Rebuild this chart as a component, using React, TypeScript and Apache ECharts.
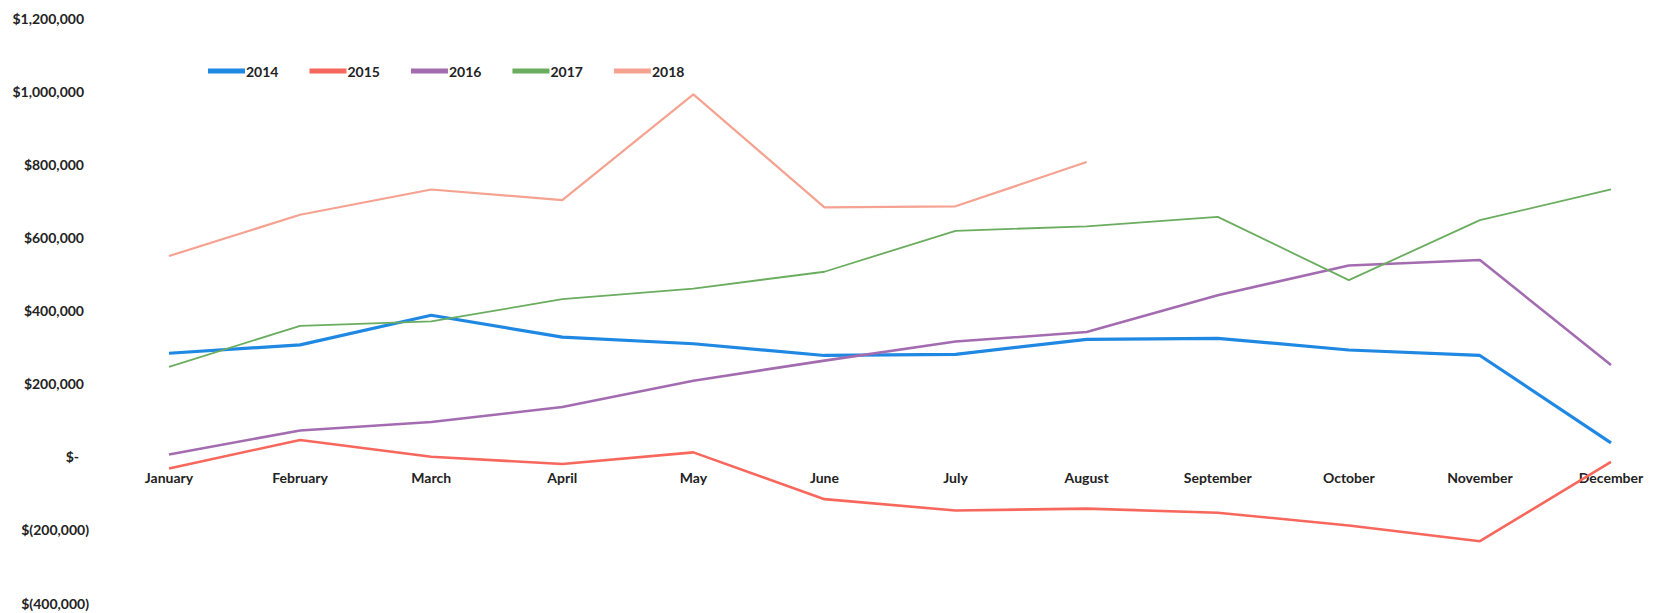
import React, { useEffect, useRef } from "react";
import * as echarts from "echarts";

const months = ["January", "February", "March", "April", "May", "June", "July", "August", "September", "October", "November", "December"];
const y2014 = [283000, 306000, 387000, 327000, 309000, 277000, 280000, 321000, 324000, 292000, 277000, 38000];
const y2015 = [-32000, 46000, 0, -20000, 12000, -116000, -147000, -142000, -153000, -188000, -231000, -14000];
const y2016 = [6000, 72000, 95000, 136000, 208000, 263000, 315000, 341000, 442000, 523000, 538000, 251000];
const y2017 = [246000, 358000, 370000, 431000, 460000, 506000, 618000, 630000, 656000, 483000, 647000, 731000];
const y2018 = [549000, 662000, 731000, 702000, 991000, 682000, 685000, 806000];

const Y_MIN = -400000;
const Y_MAX = 1200000;
const Y_STEP = 200000;

const FONT = "Lato, 'Open Sans', sans-serif";

function fmt(v: number): string {
  if (v === 0) return "{z|$-}";
  const s = Math.abs(v).toLocaleString("en-US");
  return v < 0 ? "{n|$(" + s + ")}" : "{p|$" + s + "}";
}

export default function App() {
  const ref = useRef<HTMLDivElement>(null);
  useEffect(() => {
    const chart = echarts.init(ref.current!, null, { renderer: "svg" });
    const textBase = { fontFamily: FONT, fontSize: 14, fontWeight: "bold" as const, color: "#222" };
    const mk = (name: string, data: number[], color: string, width: number) => ({
      name,
      type: "line",
      data,
      symbol: "none",
      lineStyle: { color, width },
      itemStyle: { color },
    });
    chart.setOption({
      animation: false,
      backgroundColor: "#fff",
      grid: { left: 169, right: 48, top: 18, bottom: 10, outerBoundsMode: "none", containLabel: false },
      legend: {
        left: 203,
        top: 59,
        itemWidth: 37,
        itemHeight: 5,
        itemGap: 31,
        icon: "rect",
        textStyle: { ...textBase, padding: [0, 0, 0, -4] },
        data: ["2014", "2015", "2016", "2017", "2018"],
      },
      xAxis: {
        type: "category",
        data: months,
        boundaryGap: false,
        axisLine: { show: false, onZero: false },
        axisTick: { show: false },
        axisLabel: { ...textBase, margin: 14, interval: 0 },
        splitLine: { show: false },
      },
      yAxis: {
        type: "value",
        min: Y_MIN,
        max: Y_MAX,
        interval: Y_STEP,
        axisLine: { show: false },
        axisTick: { show: false },
        splitLine: { show: false },
        axisLabel: {
          ...textBase,
          align: "right",
          margin: 80,
          formatter: fmt,
          rich: {
            p: { ...textBase, padding: [0, 5, 0, 0] },
            n: { ...textBase },
            z: { ...textBase, padding: [0, 10, 0, 0] },
          },
        },
      },
      series: [
        mk("2014", y2014, "#1f88e3", 3.2),
        mk("2015", y2015, "#f8675c", 2.6),
        mk("2016", y2016, "#a46cb0", 2.6),
        mk("2017", y2017, "#6aad5f", 1.8),
        mk("2018", y2018, "#f5a291", 2.2),
      ],
    });
    const zeroPx = chart.convertToPixel({ yAxisIndex: 0 }, 0) as number;
    const bottomPx = chart.convertToPixel({ yAxisIndex: 0 }, Y_MIN) as number;
    chart.setOption({ xAxis: { offset: zeroPx - bottomPx } });
    return () => chart.dispose();
  }, []);
  return <div ref={ref} style={{ position: "absolute", left: 0, top: 0, width: 1659, height: 613 }} />;
}
